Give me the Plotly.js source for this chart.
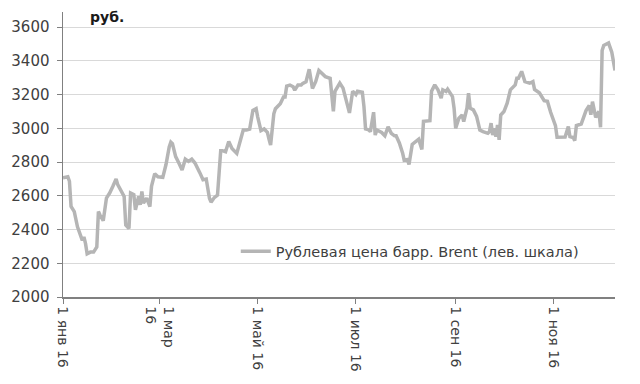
<!DOCTYPE html>
<html>
<head>
<meta charset="utf-8">
<script src="https://cdn.plot.ly/plotly-3.0.1.min.js"></script>
<style>html,body{margin:0;padding:0;background:#fff;}#chart{width:640px;height:384px;}</style>
</head>
<body>
<div id="chart"></div>
<script>
const dates = [
"2016-01-01","2016-01-04","2016-01-05","2016-01-06","2016-01-08","2016-01-10","2016-01-13","2016-01-14","2016-01-15","2016-01-16",
"2016-01-18","2016-01-20","2016-01-22","2016-01-23","2016-01-24","2016-01-26","2016-01-28","2016-01-30","2016-02-01","2016-02-03",
"2016-02-04","2016-02-06","2016-02-08","2016-02-09","2016-02-11","2016-02-12","2016-02-14","2016-02-15","2016-02-17","2016-02-18",
"2016-02-19","2016-02-20","2016-02-21","2016-02-22","2016-02-24","2016-02-25","2016-02-27","2016-02-29","2016-03-03","2016-03-05",
"2016-03-07","2016-03-08","2016-03-09","2016-03-11","2016-03-13","2016-03-15","2016-03-17","2016-03-19","2016-03-21","2016-03-23",
"2016-03-26","2016-03-28","2016-03-30","2016-04-01","2016-04-02","2016-04-04","2016-04-06","2016-04-07","2016-04-08","2016-04-09",
"2016-04-11","2016-04-13","2016-04-15","2016-04-18","2016-04-19","2016-04-21","2016-04-22","2016-04-24","2016-04-26","2016-04-28",
"2016-04-30","2016-05-01","2016-05-03","2016-05-05","2016-05-07","2016-05-08","2016-05-09","2016-05-11","2016-05-12","2016-05-15",
"2016-05-17","2016-05-18","2016-05-19","2016-05-21","2016-05-23","2016-05-24","2016-05-26","2016-05-28","2016-05-29","2016-05-31",
"2016-06-01","2016-06-02","2016-06-04","2016-06-06","2016-06-08","2016-06-10","2016-06-12","2016-06-15","2016-06-16","2016-06-17",
"2016-06-18","2016-06-21","2016-06-23","2016-06-25","2016-06-27","2016-06-29","2016-07-01","2016-07-02","2016-07-05","2016-07-06",
"2016-07-07","2016-07-09","2016-07-10","2016-07-12","2016-07-13","2016-07-14","2016-07-17","2016-07-19","2016-07-21","2016-07-23",
"2016-07-25","2016-07-26","2016-07-28","2016-07-30","2016-07-31","2016-08-02","2016-08-03","2016-08-05","2016-08-07","2016-08-09",
"2016-08-11","2016-08-12","2016-08-16","2016-08-17","2016-08-19","2016-08-21","2016-08-23","2016-08-24","2016-08-26","2016-08-27",
"2016-08-30","2016-08-31","2016-09-01","2016-09-03","2016-09-05","2016-09-06","2016-09-08","2016-09-09","2016-09-10","2016-09-12",
"2016-09-14","2016-09-16","2016-09-18","2016-09-21","2016-09-22","2016-09-23","2016-09-24","2016-09-25","2016-09-26","2016-09-27",
"2016-09-28","2016-09-29","2016-10-01","2016-10-03","2016-10-05","2016-10-08","2016-10-09","2016-10-10","2016-10-12","2016-10-14",
"2016-10-17","2016-10-19","2016-10-20","2016-10-23","2016-10-26","2016-10-28","2016-10-30","2016-11-02","2016-11-03","2016-11-06",
"2016-11-08","2016-11-10","2016-11-11","2016-11-13","2016-11-14","2016-11-15","2016-11-18","2016-11-21","2016-11-23","2016-11-24",
"2016-11-25","2016-11-27","2016-11-29","2016-11-30","2016-12-01","2016-12-02","2016-12-05","2016-12-07","2016-12-08","2016-12-09"
];
const brentRub = [
2706,2712,2686,2536,2506,2416,2336,2356,2316,2256,
2266,2266,2296,2506,2486,2452,2586,2616,2656,2700,
2666,2626,2596,2426,2406,2616,2606,2516,2596,2546,
2626,2556,2576,2586,2536,2656,2731,2712,2709,2785,
2890,2918,2909,2832,2794,2752,2817,2804,2817,2794,
2737,2695,2699,2585,2562,2589,2604,2718,2867,2867,
2861,2922,2880,2851,2890,2966,2989,2989,2995,3106,
3116,3066,2986,2996,2976,2936,2900,3086,3116,3146,
3186,3186,3250,3256,3246,3226,3256,3256,3266,3276,
3306,3350,3236,3276,3342,3326,3306,3296,3206,3100,
3219,3268,3238,3160,3091,3219,3200,3219,3213,3130,
2996,2990,2980,3095,2960,2990,2975,2955,3008,2970,
2955,2955,2913,2854,2811,2815,2785,2904,2920,2935,
2874,3041,3045,3219,3257,3228,3178,3228,3218,3232,
3188,3119,3000,3060,3079,3040,3119,3208,3119,3109,
3070,2990,2980,2970,2980,3030,2960,3000,2950,3020,
2931,3079,3099,3149,3228,3257,3297,3297,3337,3277,
3267,3277,3230,3210,3164,3160,3095,3016,2947,2945,
2948,3010,2950,2945,2927,3016,3025,3105,3135,3080,
3158,3065,3100,3006,3461,3491,3505,3451,3402,3343
];
const seriesName = "Рублевая цена барр. Brent (лев. шкала)";
const xTickVals = ["2016-01-01","2016-03-01","2016-05-01","2016-07-01","2016-09-01","2016-11-01"];
const xTickText = ["1 янв 16","1 мар<br>16","1 май 16","1 июл 16","1 сен 16","1 ноя 16"];
const yTickVals = [2000,2200,2400,2600,2800,3000,3200,3400,3600];
const unitLabel = "руб.";

const font = "DejaVu Sans, sans-serif";
Plotly.newPlot("chart", [{
  x: dates, y: brentRub, type: "scatter", mode: "lines", name: seriesName,
  line: {color: "#b5b5b5", width: 3.5}
}], {
  width: 640, height: 384,
  margin: {l: 63, r: 25, t: 12, b: 87},
  paper_bgcolor: "#fff", plot_bgcolor: "#fff",
  showlegend: true,
  legend: {x: 0.313, y: 0.16, xanchor: "left", yanchor: "middle", bgcolor: "rgba(0,0,0,0)",
           font: {family: font, size: 14.5, color: "#404040"}},
  xaxis: {
    type: "date", range: ["2016-01-01", "2016-12-09"],
    tickmode: "array", tickvals: xTickVals, ticktext: xTickText, tickangle: 90,
    showgrid: false, showline: true, linecolor: "#808080", linewidth: 1.5,
    ticks: "outside", ticklen: 5, tickcolor: "#808080",
    tickfont: {family: font, size: 14, color: "#404040"}, zeroline: false
  },
  yaxis: {
    range: [2000, 3689], tickmode: "array", tickvals: yTickVals,
    showgrid: true, gridcolor: "#d9d9d9", gridwidth: 1,
    showline: true, linecolor: "#808080", linewidth: 1.5,
    ticks: "outside", ticklen: 5, tickcolor: "#808080",
    tickfont: {family: font, size: 15, color: "#404040"}, zeroline: false,
    ticklabelstandoff: 4
  },
  annotations: [{
    text: "<b>" + unitLabel + "</b>", xref: "paper", yref: "paper", x: 0.046, y: 0.982,
    xanchor: "left", yanchor: "middle", showarrow: false,
    font: {family: font, size: 14, color: "#1a1a1a"}
  }]
}, {displayModeBar: false, staticPlot: true});
</script>
</body>
</html>
